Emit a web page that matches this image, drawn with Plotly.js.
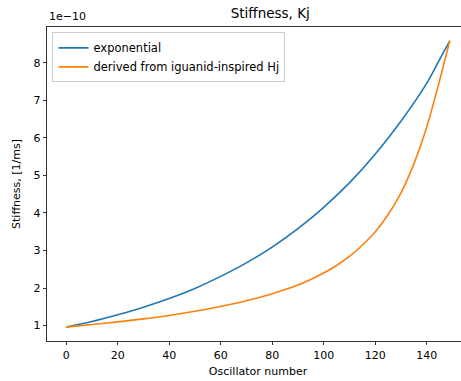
<!DOCTYPE html>
<html>
<head>
<meta charset="utf-8">
<script src="https://cdn.plot.ly/plotly-3.0.1.min.js"></script>
<style>
html,body{margin:0;padding:0;overflow:hidden;background:#fff;}
#chart{width:480px;height:381px;}
</style>
</head>
<body>
<div id="chart"></div>
<script>
// Data (values in units of 1e-10 1/ms)
var expX = [0,10,20,30,40,50,60,70,80,90,100,110,120,130,140,145,149];
var expY = [0.96,1.11,1.29,1.49,1.72,1.99,2.31,2.67,3.09,3.58,4.15,4.80,5.56,6.44,7.45,8.08,8.58];
var iguX = [0,10,20,30,40,50,60,70,80,90,95,100,105,110,115,120,125,130,135,140,143,146,149];
var iguY = [0.96,1.03,1.10,1.18,1.27,1.38,1.51,1.66,1.85,2.08,2.23,2.40,2.60,2.84,3.14,3.49,3.95,4.53,5.30,6.28,7.00,7.78,8.59];
var yTicks = [1,2,3,4,5,6,7,8];
var xTicks = [0,20,40,60,80,100,120,140];

var font = {family: 'DejaVu Sans, sans-serif', size: 11, color: '#000'};
var legFont = {family: 'DejaVu Sans, sans-serif', size: 11.5, color: '#000'};

var traces = [
  {x: expX, y: expY, type: 'scatter', mode: 'lines', name: 'exponential',
   line: {color: '#1f77b4', width: 1.6, shape: 'spline', smoothing: 0.8}},
  {x: iguX, y: iguY, type: 'scatter', mode: 'lines', name: 'derived from iguanid-inspired Hj',
   line: {color: '#ff7f0e', width: 1.6, shape: 'spline', smoothing: 0.8}}
];

var layout = {
  width: 480, height: 381,
  margin: {l: 47, r: 11, t: 27, b: 40, pad: 0},
  paper_bgcolor: '#fff', plot_bgcolor: '#fff',
  font: font,
  showlegend: true,
  title: {text: 'Stiffness, Kj', font: {family: 'DejaVu Sans, sans-serif', size: 13.5, color: '#000'},
          x: 0.529, xanchor: 'center', y: 0.965, yanchor: 'middle', xref: 'paper'},
  xaxis: {
    range: [-7.45, 156.45], tickvals: xTicks, ticktext: xTicks.map(String),
    showgrid: false, zeroline: false, showline: true, linecolor: '#000', linewidth: 0.8,
    mirror: true, ticks: 'outside', ticklen: 3.5, tickwidth: 0.8, tickcolor: '#000',
    tickfont: font,
    title: {text: 'Oscillator number', font: font, standoff: 6}
  },
  yaxis: {
    range: [0.59, 8.95], tickvals: yTicks, ticktext: yTicks.map(String),
    showgrid: false, zeroline: false, showline: true, linecolor: '#000', linewidth: 0.8,
    mirror: false, ticks: 'outside', ticklen: 3.5, tickwidth: 0.8, tickcolor: '#000',
    tickfont: font,
    title: {text: 'Stiffness, [1/ms]', font: font, standoff: 10}
  },
  legend: {
    x: 0.013, y: 0.983, xanchor: 'left', yanchor: 'top',
    bgcolor: 'rgba(255,255,255,0.8)', bordercolor: '#cccccc', borderwidth: 1,
    font: legFont, itemwidth: 30, tracegroupgap: 0
  },
  annotations: [
    {text: '1e\u221210', xref: 'paper', yref: 'paper', x: 0, y: 1, xanchor: 'left', yanchor: 'bottom',
     yshift: 2, showarrow: false, font: font}
  ]
};

Plotly.newPlot('chart', traces, layout, {displayModeBar: false, staticPlot: true});
</script>
</body>
</html>
